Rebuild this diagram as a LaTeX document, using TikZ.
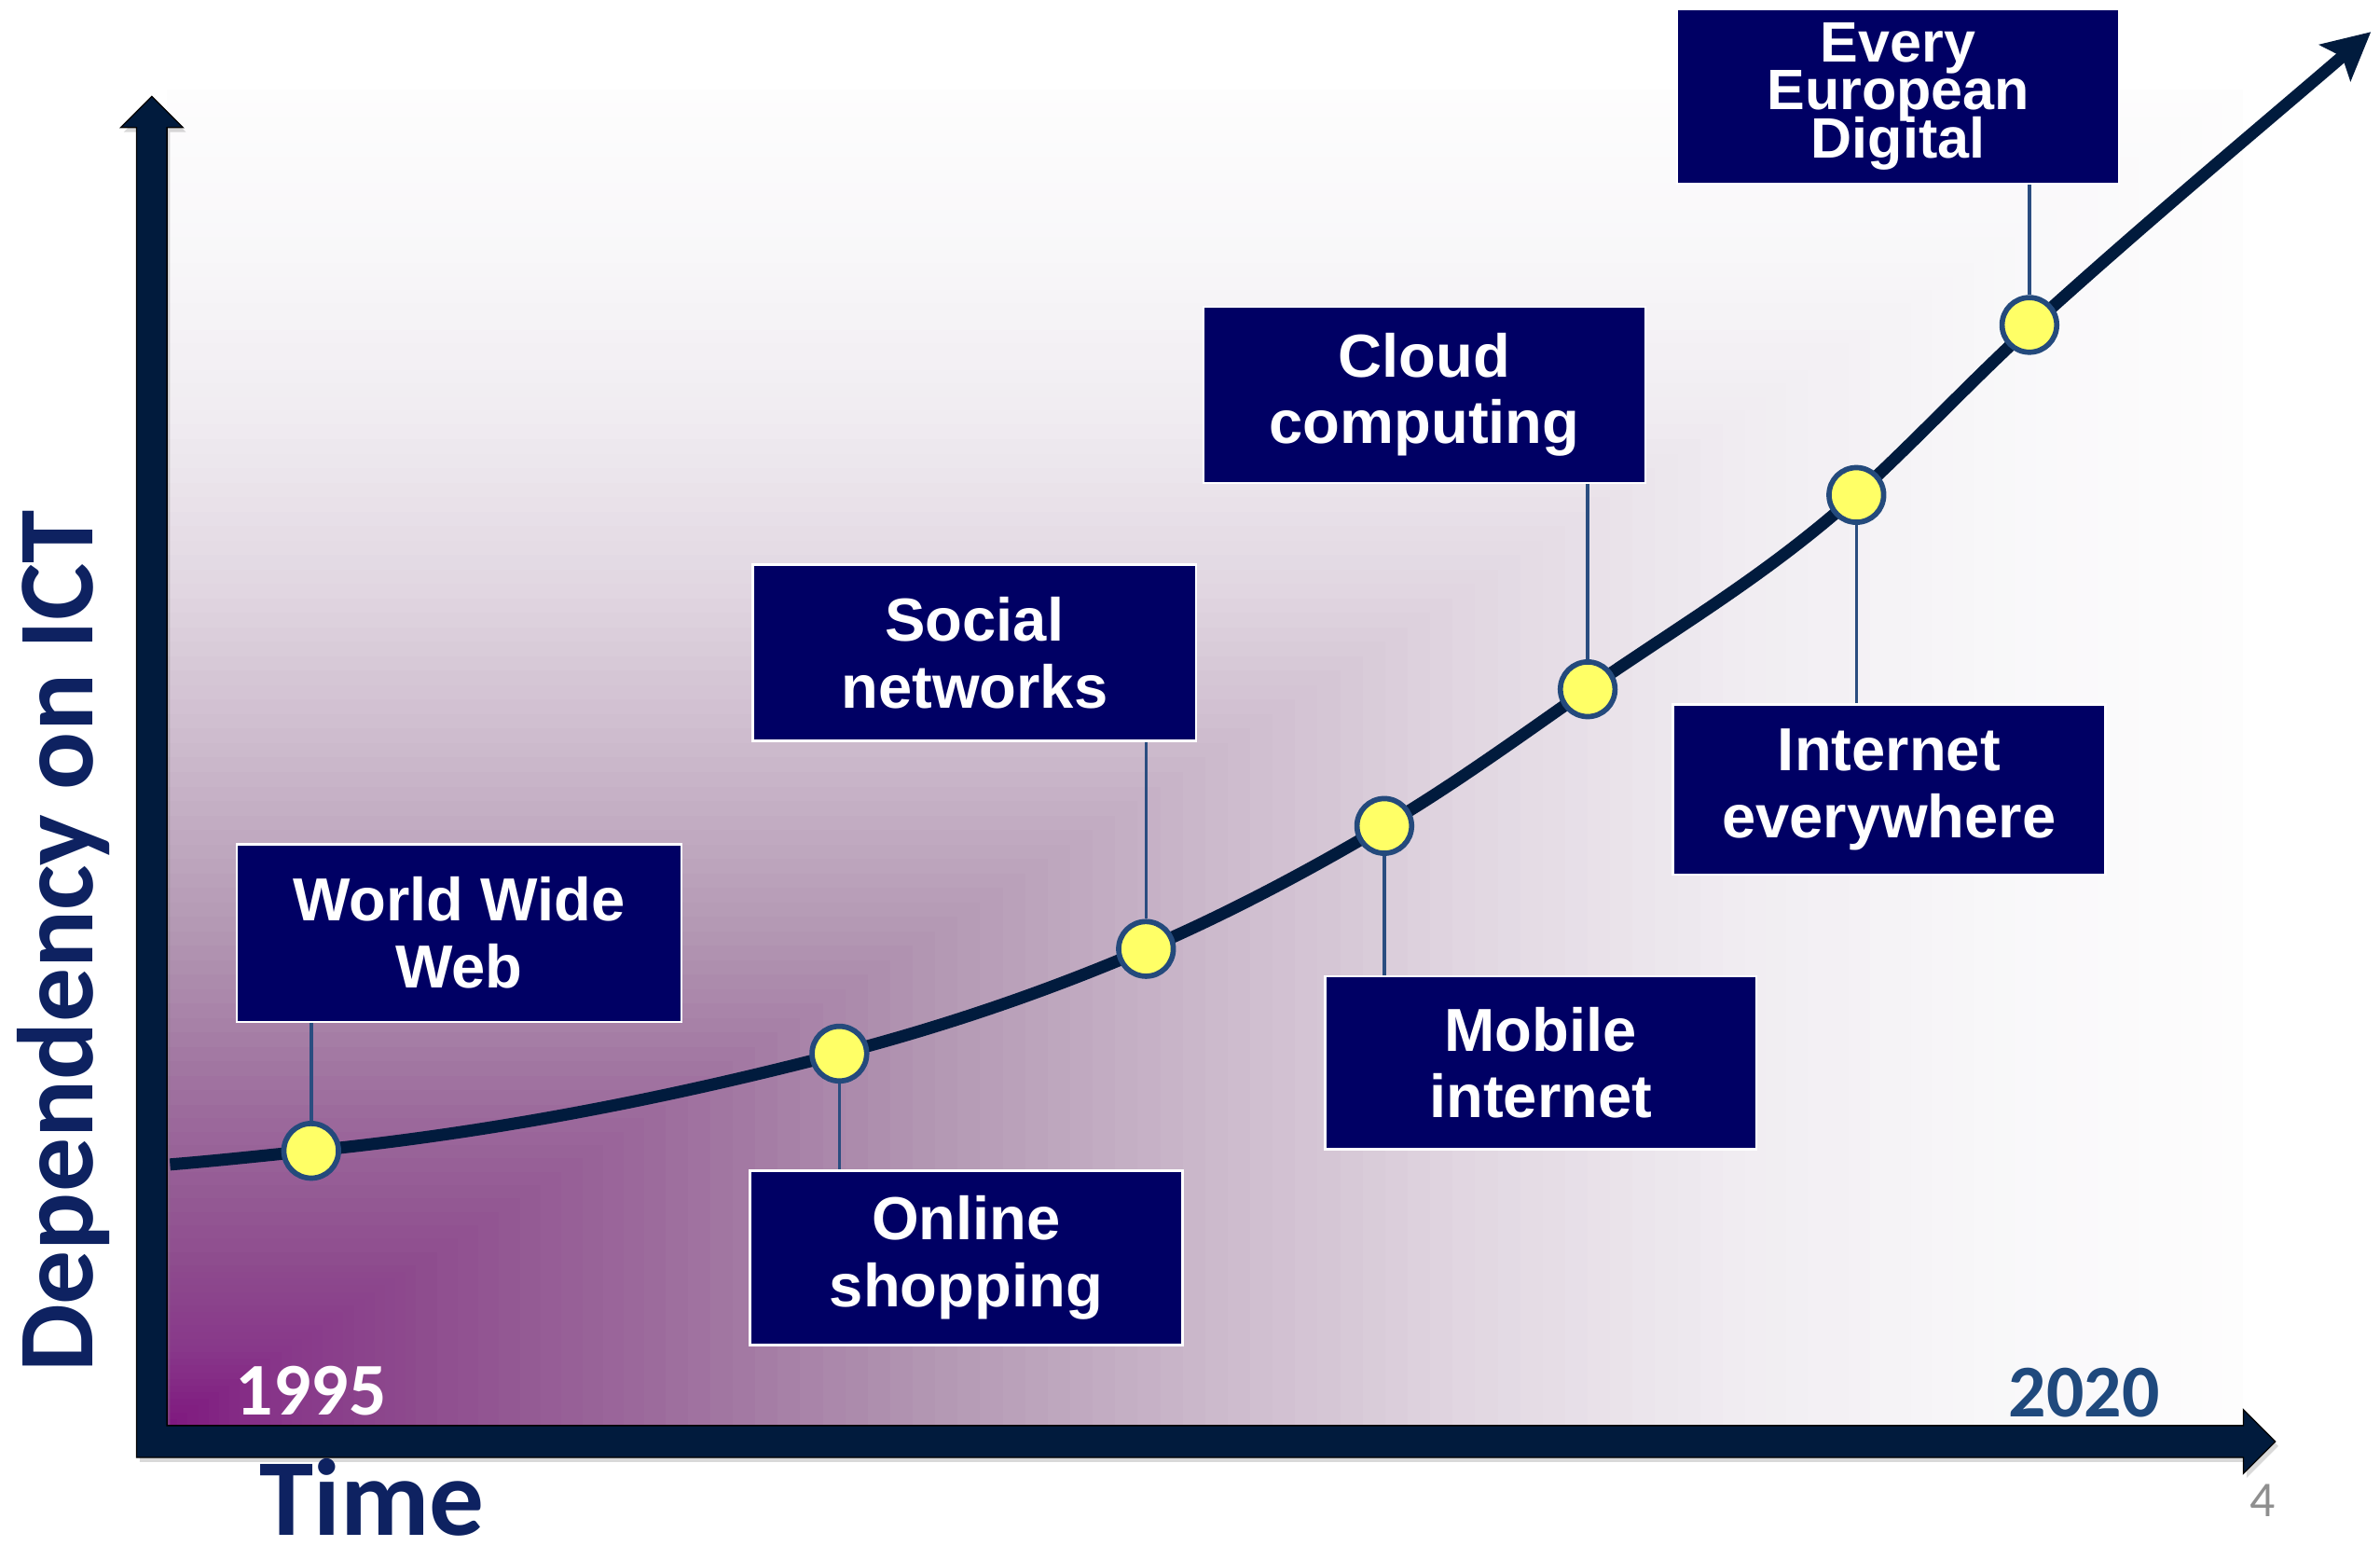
\documentclass[tikz,border=0pt]{standalone}
\usepackage{fontspec}
\setmainfont{Liberation Sans}
\newfontfamily\carlito{Carlito}
\usetikzlibrary{arrows.meta,shadows}
\newcommand\tightlinesx{\setlength{\lineskiplimit}{-100pt}}

\definecolor{axisnavy}{HTML}{011B3D}
\definecolor{boxblue}{HTML}{000064}
\definecolor{dotyellow}{HTML}{FFFF66}
\definecolor{dotedge}{HTML}{244A7C}
\definecolor{linkblue}{HTML}{2A4D80}
\definecolor{labelnavy}{HTML}{0E2261}
\definecolor{yearblue}{HTML}{1F497D}
\definecolor{pagegray}{HTML}{8F8F8F}
\definecolor{g0}{HTML}{7E167E}
\definecolor{g1}{HTML}{88388A}
\definecolor{g2}{HTML}{8D4A8D}
\definecolor{g3}{HTML}{9C6B9C}
\definecolor{g4}{HTML}{B296B2}
\definecolor{g5}{HTML}{CAB7CA}
\definecolor{g6}{HTML}{E1D6E1}
\definecolor{g7}{HTML}{F0ECF1}
\definecolor{g8}{HTML}{F8F7F9}
\definecolor{g9}{HTML}{FDFDFD}

\begin{document}
\begin{tikzpicture}[x=1pt,y=-1pt,
  evbox/.style={draw=white, line width=1.5pt, fill=boxblue, text=white,
    font=\bfseries\fontsize{40}{44}\selectfont, align=center, inner sep=0pt},
  evdot/.style={circle, fill=dotyellow, draw=dotedge, line width=3.5pt,
    minimum size=36pt, inner sep=0pt},
  link/.style={draw=linkblue, line width=2.2pt},
  trend/.style={draw=axisnavy, line width=8pt,
    -{Stealth[length=31pt, width=31pt, inset=6pt]}},
  axisshape/.style={fill=axisnavy, draw=black, line width=0.8pt,
    drop shadow={shadow xshift=2pt, shadow yshift=-3pt, opacity=0.3}},
  yearlab/.style={font=\carlito\bfseries\fontsize{49}{49}\selectfont, inner sep=0pt}
]
\useasboundingbox (0,0) rectangle (1568,1018);

% rectangular gradient from the lower left corner
\foreach \sa/\sb/\ca/\cb in {0.88/1.00/g8/g9, 0.76/0.88/g7/g8, 0.63/0.76/g6/g7,
    0.50/0.63/g5/g6, 0.37/0.50/g4/g5, 0.24/0.37/g3/g4, 0.12/0.24/g2/g3,
    0.06/0.12/g1/g2, 0.00/0.06/g0/g1}{
  \foreach \k in {0,...,11}{
    \pgfmathsetmacro\s{\sb-(\sb-\sa)*\k/12}
    \pgfmathsetmacro\p{100*\k/12}
    \fill[\ca!\p!\cb] (110,939) rectangle ++({1368*\s},{-880*\s});
  }
}

% trend curve
\draw[trend] (112,767) .. controls (143,764.5) and (174,761.1) .. (205,758)
  .. controls (321,746.4) and (437,724.2) .. (553,694)
  .. controls (620.3,676.5) and (687.7,653.9) .. (755,625)
  .. controls (807.3,602.5) and (859.7,574.9) .. (912,544)
  .. controls (956.7,517.6) and (1001.3,485.3) .. (1046,454)
  .. controls (1105,413) and (1164,379) .. (1223,326)
  .. controls (1261,291.5) and (1300,249.5) .. (1338,215)
  .. controls (1413,147) and (1487,85.5) .. (1562,21);

% dots
\node[evdot] (d1) at (205,758) {};
\node[evdot] (d2) at (553,694) {};
\node[evdot] (d3) at (755,625) {};
\node[evdot] (d4) at (912,544) {};
\node[evdot] (d5) at (1046,454) {};
\node[evdot] (d6) at (1223,326) {};
\node[evdot] (d7) at (1337,214) {};

% boxes
\node[evbox, minimum width=293pt, minimum height=117pt] (www) at (302.5,614.5) {World Wide\\Web};
\node[evbox, minimum width=285pt, minimum height=115pt] (shop) at (636.5,828.5) {Online\\shopping};
\node[evbox, minimum width=292pt, minimum height=116pt] (soc) at (642,430) {Social\\networks};
\node[evbox, minimum width=284pt, minimum height=114pt] (mob) at (1015,700) {Mobile\\internet};
\node[evbox, minimum width=291pt, minimum height=116pt] (cloud) at (938.5,260) {Cloud\\computing};
\node[evbox, minimum width=285pt, minimum height=112pt] (inet) at (1244.5,520) {Internet\\everywhere};
\node[evbox, minimum width=291pt, minimum height=115pt,
  font=\bfseries\fontsize{37.5}{31.5}\selectfont\tightlinesx] (eed) at (1250.5,63.5) {Every\\European\\Digital};

% connectors
\draw[link] (www.south -| d1.north) -- (d1.north);
\draw[link] (d2.south) -- (shop.north -| d2.south);
\draw[link] (soc.south -| d3.north) -- (d3.north);
\draw[link] (d4.south) -- (mob.north -| d4.south);
\draw[link] (cloud.south -| d5.north) -- (d5.north);
\draw[link] (d6.south) -- (inet.north -| d6.south);
\draw[link] (eed.south -| d7.north) -- (d7.north);

% axes
\path[axisshape] (90,960) -- (90,84) -- (79.5,84) -- (100,63.5) -- (120.5,84)
  -- (110,84) -- (110,939) -- (1478,939) -- (1478,928.5) -- (1499,949.5)
  -- (1478,970.5) -- (1478,960) -- cycle;

% labels
\node[rotate=90, anchor=base, inner sep=0pt, text=labelnavy,
  font=\carlito\bfseries\fontsize{71}{71}\selectfont] (ylab) at (61,620) {Dependency on ICT};
\node[anchor=base west, inner sep=0pt, text=labelnavy,
  font=\carlito\bfseries\fontsize{72}{72}\selectfont] (xlab) at (171,1011) {Time};
\node[yearlab, anchor=base west, text=white] (y1995) at (155,932) {1995};
\node[yearlab, anchor=base east, text=yearblue] (y2020) at (1423,933) {2020};
\node[anchor=base east, inner sep=0pt, text=pagegray,
  font=\carlito\fontsize{33}{33}\selectfont] (pnum) at (1499,999) {4};
\end{tikzpicture}
\end{document}
